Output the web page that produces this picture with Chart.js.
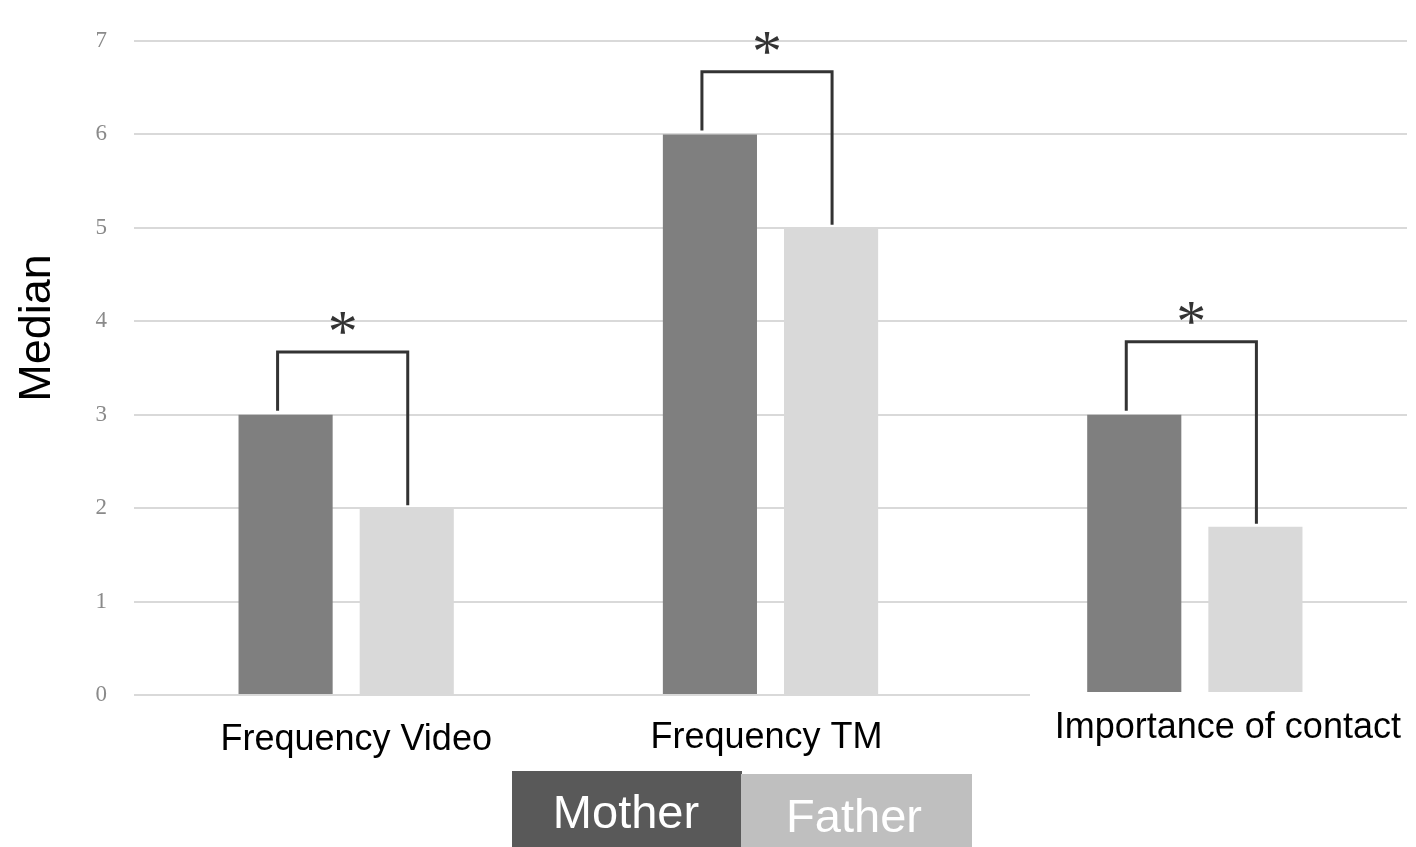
<!DOCTYPE html>
<html>
<head>
<meta charset="utf-8">
<script src="https://cdn.jsdelivr.net/npm/chart.js@4.4.0/dist/chart.umd.min.js"></script>
<style>
  html, body { margin: 0; padding: 0; background: #fff; }
  #wrap { width: 1416px; height: 847px; position: relative; }
</style>
</head>
<body>
<div id="wrap"><canvas id="medianChart" width="1416" height="847"></canvas></div>
<script>
// data
const categories = ['Frequency Video', 'Frequency TM', 'Importance of contact'];
const motherValues = [3, 6, 3];
const fatherValues = [2, 5, 1.8];
const yTicks = [0, 1, 2, 3, 4, 5, 6, 7];
const bracketTops = [3.67, 6.67, 3.78]; // height of the significance bracket
const seriesNames = ['Mother', 'Father'];

// custom drawing: brackets, asterisks, category labels, axis title, legend boxes
const extras = {
    id: 'extras',
    afterDatasetsDraw(chart) {
        const ctx = chart.ctx;
        const x = chart.scales.x, y = chart.scales.y;
        const mBars = chart.getDatasetMeta(0).data;
        const fBars = chart.getDatasetMeta(1).data;

        ctx.save();
        // white patch over the baseline under the last group, as in the source image
        ctx.fillStyle = '#fff';
        ctx.fillRect(1030, 692, 386, 20);

        ctx.strokeStyle = '#333';
        ctx.lineWidth = 3;
        categories.forEach((c, i) => {
            const lx = mBars[i].x - 8;
            const rx = fBars[i].x + 1;
            const top = y.getPixelForValue(bracketTops[i]);
            ctx.beginPath();
            ctx.moveTo(lx, y.getPixelForValue(motherValues[i]) - 4);
            ctx.lineTo(lx, top);
            ctx.lineTo(rx, top);
            ctx.lineTo(rx, y.getPixelForValue(fatherValues[i]) - 3);
            ctx.stroke();

            ctx.fillStyle = '#333';
            ctx.font = '60px "Liberation Serif", serif';
            ctx.textAlign = 'center';
            ctx.textBaseline = 'middle';
            ctx.fillText('*', (lx + rx) / 2, top - 17);
        });

        // category labels
        const labelOffsets = [[10, 45], [-4, 43], [33, 33]];
        ctx.fillStyle = '#000';
        ctx.textBaseline = 'middle';
        ctx.font = '36px "Liberation Sans", Arial, sans-serif';
        categories.forEach((c, i) => {
            const cx = x.getPixelForValue(i) + labelOffsets[i][0];
            ctx.fillText(c, cx, y.getPixelForValue(0) + labelOffsets[i][1]);
        });

        // axis title
        ctx.save();
        ctx.translate(50, 328);
        ctx.rotate(-Math.PI / 2);
        ctx.textBaseline = 'alphabetic';
        ctx.font = '45px "Liberation Sans", Arial, sans-serif';
        ctx.fillText('Median', 0, 0);
        ctx.restore();

        // legend boxes
        const boxes = [
            { x: 512, y: 771, w: 230, h: 76, fill: '#595959', tx: 626, ty: 828 },
            { x: 741, y: 774, w: 231, h: 73, fill: '#bfbfbf', tx: 854, ty: 832 }
        ];
        ctx.textBaseline = 'alphabetic';
        boxes.forEach((b, i) => {
            ctx.fillStyle = b.fill;
            ctx.fillRect(b.x, b.y, b.w, b.h);
            ctx.fillStyle = '#fff';
            ctx.font = '47px "Liberation Sans", Arial, sans-serif';
            ctx.fillText(seriesNames[i], b.tx, b.ty);
        });
        ctx.restore();
    }
};

new Chart(document.getElementById('medianChart').getContext('2d'), {
    type: 'bar',
    data: {
        labels: categories,
        datasets: [
            { label: seriesNames[0], data: motherValues, backgroundColor: '#7f7f7f' },
            { label: seriesNames[1], data: fatherValues, backgroundColor: '#d9d9d9' }
        ]
    },
    options: {
        responsive: false,
        animation: false,
        categoryPercentage: 0.571,
        barPercentage: 0.777,
        layout: { padding: { left: 0, right: 9, top: 41, bottom: 152 } },
        plugins: {
            legend: { display: false },
            tooltip: { enabled: false }
        },
        scales: {
            x: {
                display: false
            },
            y: {
                min: 0,
                max: 7,
                afterFit(scale) { scale.width = 134; },
                afterBuildTicks(scale) { scale.ticks = yTicks.map(v => ({ value: v })); },
                border: { display: false },
                grid: { color: '#d9d9d9', lineWidth: 2, drawTicks: false },
                ticks: {
                    padding: 27,
                    color: '#8a8a8a',
                    font: { family: '"Liberation Serif", "Times New Roman", serif', size: 23 }
                }
            }
        }
    },
    plugins: [extras]
});
</script>
</body>
</html>
